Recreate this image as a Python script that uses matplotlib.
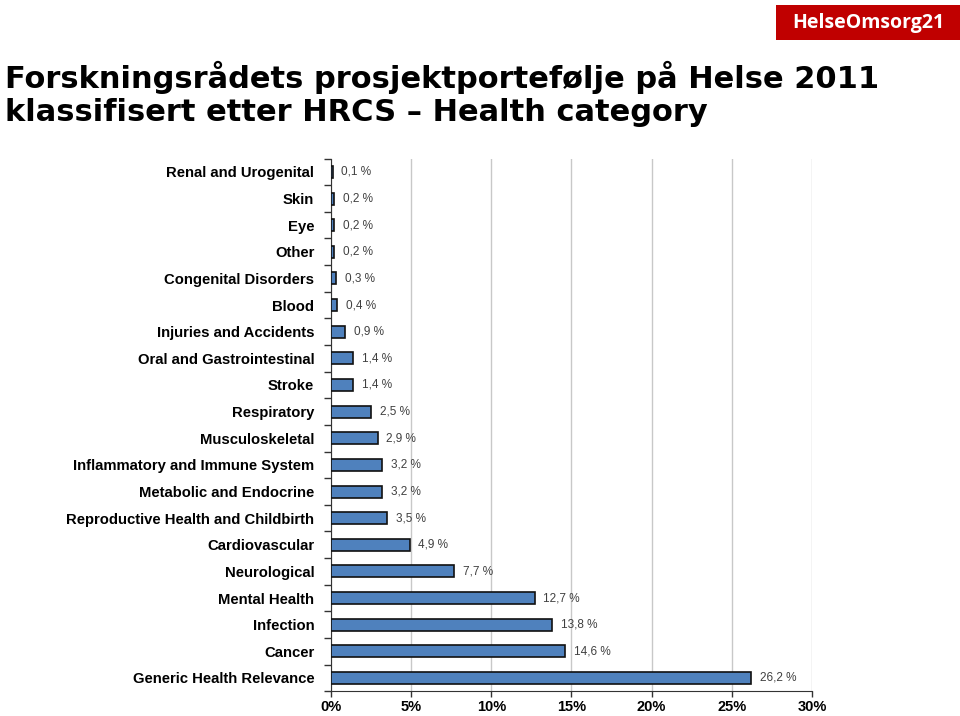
import numpy as np
import matplotlib.pyplot as plt
from matplotlib.patches import Rectangle

categories = ['Renal and Urogenital', 'Skin', 'Eye', 'Other', 'Congenital Disorders',
              'Blood', 'Injuries and Accidents', 'Oral and Gastrointestinal', 'Stroke',
              'Respiratory', 'Musculoskeletal', 'Inflammatory and Immune System',
              'Metabolic and Endocrine', 'Reproductive Health and Childbirth',
              'Cardiovascular', 'Neurological', 'Mental Health', 'Infection', 'Cancer',
              'Generic Health Relevance']
values = [0.1, 0.2, 0.2, 0.2, 0.3, 0.4, 0.9, 1.4, 1.4, 2.5, 2.9, 3.2, 3.2, 3.5,
          4.9, 7.7, 12.7, 13.8, 14.6, 26.2]
xticks = [0, 5, 10, 15, 20, 25, 30]

fig = plt.figure(figsize=(9.6, 7.16), dpi=100)
ax = fig.add_axes([0.3448, 0.0345, 0.501, 0.744])

y = np.arange(len(categories))
ax.barh(y, values, height=0.45, color='#4F81BD', edgecolor='#111111', linewidth=1.2, zorder=3)
ax.set_ylim(len(categories) - 0.5, -0.5)
ax.set_xlim(0, 30)

for yi, v in zip(y, values):
    ax.text(v + 0.55, yi, ('%.1f' % v).replace('.', ',') + ' %', va='center', ha='left',
            fontsize=8.5, color='#404040', family='Liberation Sans')

ax.set_yticks(y)
ax.set_yticklabels(categories, fontsize=10.7, fontweight='bold', family='Liberation Sans')
ax.set_yticks(np.arange(len(categories) + 1) - 0.5, minor=True)
ax.tick_params(axis='y', which='major', length=0, pad=12)
ax.tick_params(axis='y', which='minor', length=5, width=1, color='#333333')

ax.set_xticks(xticks)
ax.set_xticklabels([f'{t}%' for t in xticks], fontsize=10.5, fontweight='bold', family='Liberation Sans')
ax.tick_params(axis='x', length=4, width=1, color='#333333', pad=2)

ax.grid(axis='x', color='#c8c8c8', linewidth=1, zorder=0)
ax.spines['top'].set_visible(False)
ax.spines['right'].set_visible(False)
ax.spines['left'].set_color('#333333')
ax.spines['bottom'].set_color('#333333')

fig.text(0.005, 0.869, 'Forskningsrådets prosjektportefølje på Helse 2011\nklassifisert etter HRCS – Health category',
         fontsize=22, fontweight='bold', va='center', ha='left', linespacing=1.2, family='DejaVu Sans')

fig.patches.append(Rectangle((776 / 960, 1 - 40 / 716), 184 / 960, 35 / 716,
                             transform=fig.transFigure, facecolor='#C00000', edgecolor='none'))
fig.text(868 / 960, 1 - 23 / 716, 'HelseOmsorg21', color='white', fontsize=14, fontweight='bold',
         ha='center', va='center', family='Open Sans')

fig.savefig('out.png', dpi=100)
